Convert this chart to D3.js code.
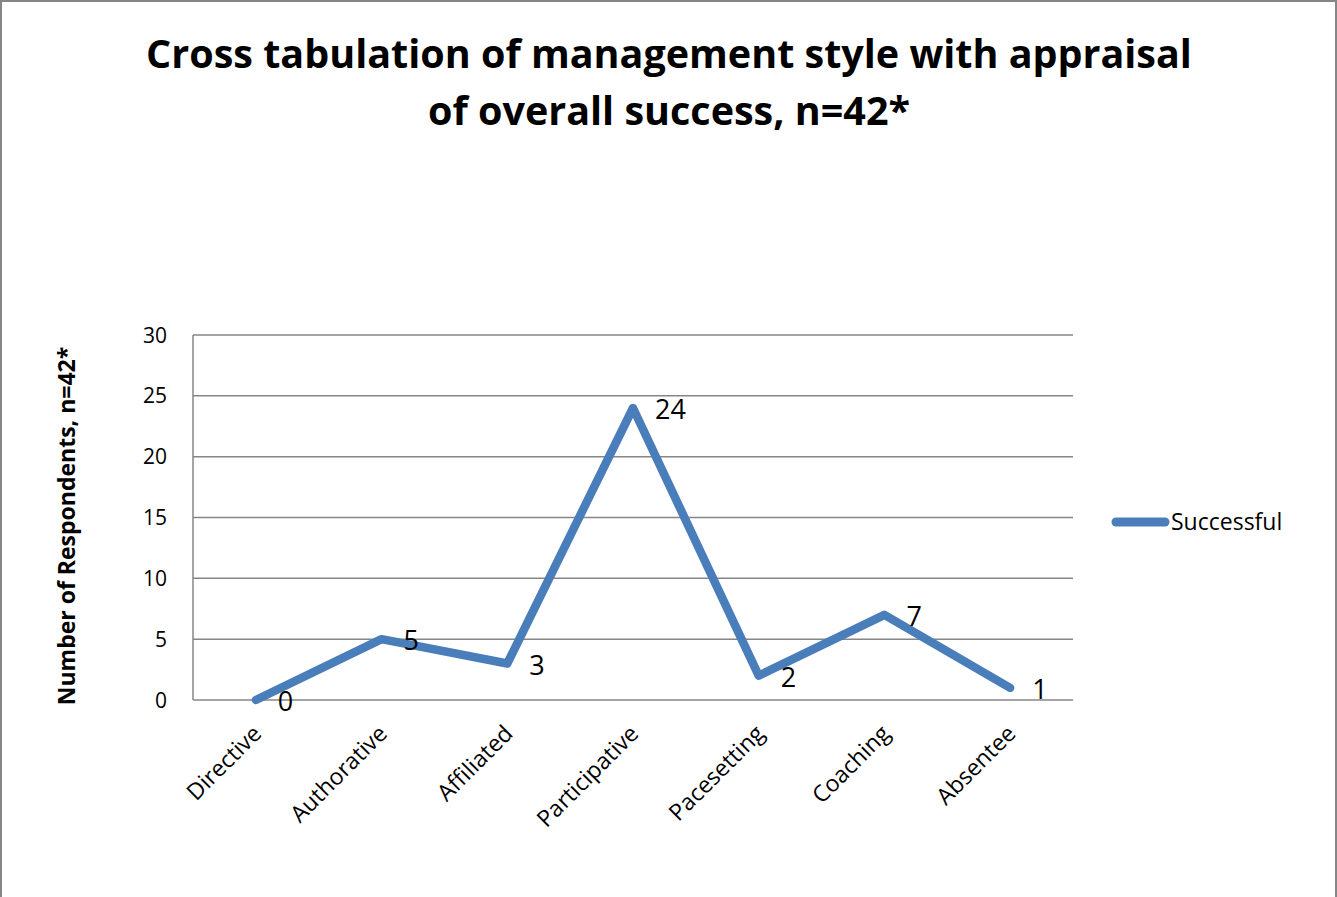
<!DOCTYPE html>
<html><head><meta charset="utf-8">
<script src="https://cdn.jsdelivr.net/npm/d3@7"></script>
<style>
html,body{margin:0;padding:0;background:#fff;overflow:hidden;}
svg{display:block;}
</style></head>
<body>
<script>
const categories = ["Directive","Authorative","Affiliated","Participative","Pacesetting","Coaching","Absentee"];
const successful = [0,5,3,24,2,7,1];
const yTicks = [0,5,10,15,20,25,30];
const titleLines = ["Cross tabulation of management style with appraisal","of overall success, n=42*"];
const yAxisTitle = "Number of Respondents, n=42*";
const seriesName = "Successful";

(function(){
const W = 1337, H = 897;
const font = "'Open Sans', 'Liberation Sans', sans-serif";
const svg = d3.select("body").append("svg").attr("width", W).attr("height", H);
svg.append("rect").attr("x",1).attr("y",1).attr("width",1335).attr("height",H+5)
  .attr("fill","#fff").attr("stroke","#868686").attr("stroke-width",2);

const pLeft = 193, pRight = 1073, pTop = 335, pBottom = 700;
const x = d3.scalePoint().domain(categories).range([pLeft, pRight]).padding(0.5);
const y = d3.scaleLinear().domain([0,30]).range([pBottom, pTop]);

svg.append("g").selectAll("line").data(yTicks).join("line")
  .attr("x1", pLeft).attr("x2", pRight)
  .attr("y1", d=>y(d)).attr("y2", d=>y(d))
  .attr("stroke","#868686").attr("stroke-width",1.5);
svg.append("line").attr("x1",pLeft).attr("x2",pLeft).attr("y1",pTop).attr("y2",pBottom)
  .attr("stroke","#868686").attr("stroke-width",1.5);

svg.append("g").selectAll("text").data(yTicks).join("text")
  .attr("x", 167).attr("y", d=>y(d)).attr("dy","0.36em")
  .attr("text-anchor","end").attr("font-family",font).attr("font-size",21)
  .text(d=>d);

svg.append("g").selectAll("text").data(categories).join("text")
  .attr("transform", d=>`translate(${x(d)+7},${pBottom+35}) rotate(-45)`)
  .attr("text-anchor","end").attr("font-family",font).attr("font-size",23)
  .text(d=>d);

const line = d3.line().x((d,i)=>x(categories[i])).y(d=>y(d));
svg.append("path").datum(successful).attr("d", line)
  .attr("fill","none").attr("stroke","#4a7ebb").attr("stroke-width",8.5)
  .attr("stroke-linejoin","round").attr("stroke-linecap","round");

svg.append("g").selectAll("text").data(successful).join("text")
  .attr("x",(d,i)=>x(categories[i])+22).attr("y",d=>y(d)+11)
  .attr("font-family",font).attr("font-size",27)
  .text(d=>d);

svg.append("g").selectAll("text").data(titleLines).join("text")
  .attr("x", 669).attr("y",(d,i)=>68+i*57)
  .attr("text-anchor","middle").attr("font-family",font).attr("font-weight","bold").attr("font-size",39.5)
  .text(d=>d);

svg.append("text").attr("transform","translate(75,526) rotate(-90)")
  .attr("text-anchor","middle").attr("font-family",font).attr("font-weight","bold").attr("font-size",23)
  .text(yAxisTitle);

svg.append("line").attr("x1",1116).attr("x2",1165).attr("y1",522).attr("y2",522)
  .attr("stroke","#4a7ebb").attr("stroke-width",9).attr("stroke-linecap","round");
svg.append("text").attr("x",1171).attr("y",522).attr("dy","0.36em")
  .attr("font-family",font).attr("font-size",23).text(seriesName);
})();
</script>
</body></html>
